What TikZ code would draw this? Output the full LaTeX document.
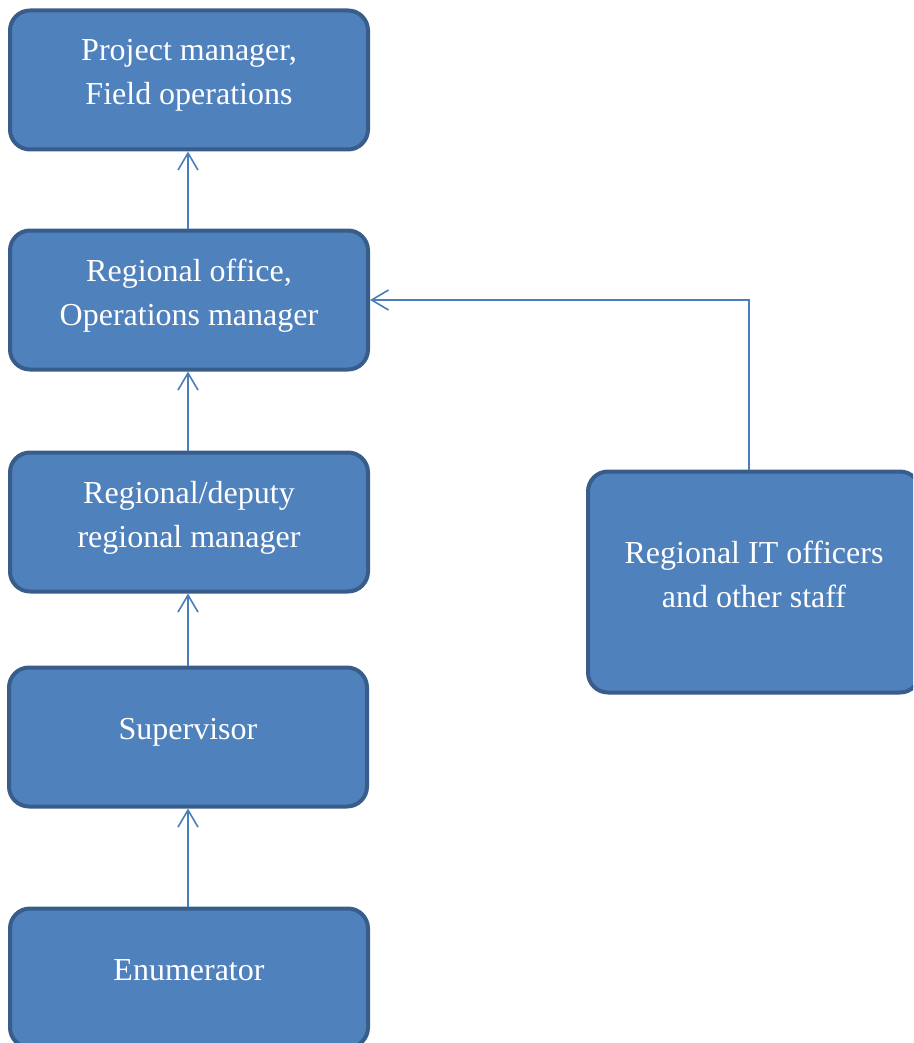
\documentclass[tikz,border=0pt]{standalone}
\usepackage{fontspec}
\setmainfont{Liberation Serif}
\usetikzlibrary{arrows.meta}
\definecolor{boxfill}{HTML}{4F81BD}
\definecolor{boxline}{HTML}{385D8A}
\definecolor{linkcol}{HTML}{4A7EBB}
\tikzstyle{unit}=[draw=boxline,fill=boxfill,line width=4pt,rounded corners=20pt,minimum width=358pt,minimum height=139pt,align=center,text=white,font=\fontsize{32}{44}\selectfont]
\tikzstyle{link} = [draw=linkcol,line width=1.6pt,-{Straight Barb[length=17pt,width=20pt]}]

\begin{document}
\begin{tikzpicture}[x=1pt,y=-1pt]
	\clip (0,0) rectangle (913,1043);
	\useasboundingbox (0,0) rectangle (913,1043);
	% First we draw the units
	\foreach \pos/\name/\txt in {{(189,80)/pm/{Project manager,\\Field operations}},
		{(189,300)/office/{Regional office,\\Operations manager}},
		{(189,522)/deputy/{Regional/deputy\\regional manager}},
		{(188,737)/supervisor/{Supervisor}},
		{(189,978)/enumerator/{Enumerator}}}
	\node[unit] (\name) at \pos {\txt\\[-28pt]};
	\node[unit,minimum width=332pt,minimum height=221pt] (itstaff) at (754,582) {Regional IT officers\\and other staff\\[-28pt]};

	% Connect units with reporting lines
	\foreach \source/ \dest in {enumerator/supervisor, supervisor/deputy, deputy/office, office/pm}
	\path[link] (\source.north -| 188,0) -- (\dest.south -| 188,0);
	\path[link] (itstaff.north -| 749,0) |- (office.east);
\end{tikzpicture}
\end{document}
